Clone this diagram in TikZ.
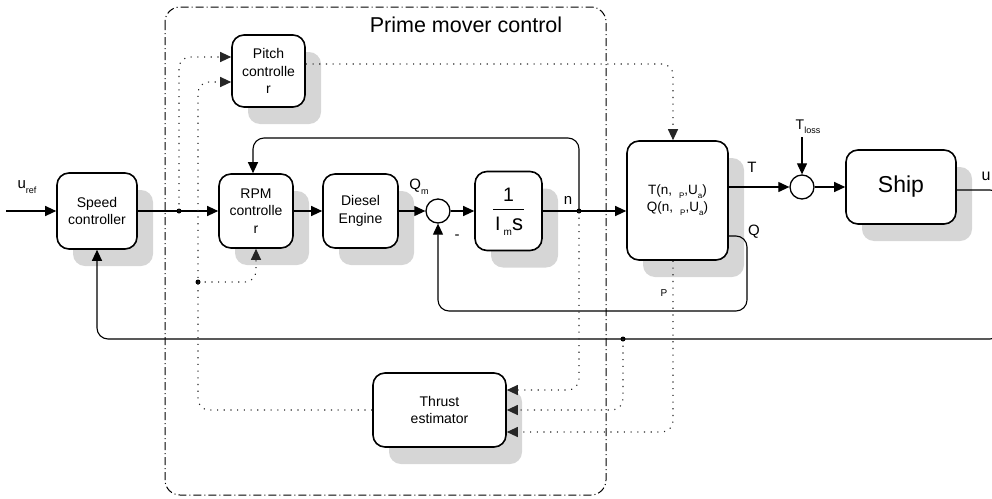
\documentclass[tikz,border=0pt]{standalone}
\usepackage{fontspec}
\setmainfont{Liberation Sans}
\usetikzlibrary{arrows.meta,shadows}
\definecolor{shd}{HTML}{D6D6D6}
\newcommand\fs[1]{\fontsize{#1}{#1}\selectfont}
\newcommand\lowsub[2]{\raisebox{-0.3em}{\fontsize{#1}{#1}\selectfont #2}}

\begin{document}
\begin{tikzpicture}[x=1pt,y=-1pt,
  blk/.style={draw, line width=1.6pt, rounded corners=12pt, fill=white,
    align=center, inner sep=0pt, font=\fontsize{14}{17.5}\selectfont,
    drop shadow={shadow xshift=16pt,shadow yshift=-17pt,opacity=1,fill=shd,draw=none}},
  sumc/.style={draw, line width=1.3pt, circle, minimum size=24pt, inner sep=0pt, fill=white},
  wire/.style={line width=1.1pt, rounded corners=11pt},
  arr/.style={wire, -{Triangle[length=11pt,width=10pt]}},
  sig/.style={line width=1.1pt, dash pattern=on 1.1pt off 5.6pt, rounded corners=11pt, draw=black!85},
  sigarr/.style={sig, -{Triangle[length=11pt,width=10pt]}},
  dot/.style={circle, fill, inner sep=0pt, minimum size=5pt},
  lbl/.style={font=\fs{15}, inner sep=0pt},
  frame/.style={line width=1pt, dash pattern=on 8pt off 3pt on 1pt off 3pt, rounded corners=15pt}
]
\useasboundingbox (0,0) rectangle (992,498);
\clip (0,0) rectangle (992,498);

% prime mover control group
\draw[frame] (165,7) rectangle (606,495);
\node[font=\fs{21.5}, inner sep=0pt] (title) at (466,25) {Prime mover control};

% blocks
\node[blk, minimum width=80pt, minimum height=76pt] (speed) at (97,211) {Speed\\controller};
\node[blk, minimum width=74pt, minimum height=74pt] (rpm) at (256,211) {RPM\\controlle\\r};
\node[blk, minimum width=73pt, minimum height=72pt] (pitch) at (268.5,71) {Pitch\\controlle\\r};
\node[blk, minimum width=75pt, minimum height=74pt] (diesel) at (360.5,211) {Diesel\\Engine};
\node[sumc] (s1) at (438,211) {};
\node[blk, minimum width=67pt, minimum height=79pt] (integ) at (508.5,211) {};
\node[blk, minimum width=101pt, minimum height=119pt, font=\fontsize{13.5}{17}\selectfont] (tq) at (677.5,200.5)
  {T(n,\hspace{7pt}\lowsub{8}{P},U\lowsub{8}{a})\\Q(n,\hspace{7pt}\lowsub{8}{P},U\lowsub{8}{a})};
\node[sumc] (s2) at (802,187) {};
\node[blk, minimum width=110pt, minimum height=74pt, font=\fs{23}] (ship) at (901,187) {Ship};
\node[blk, minimum width=133pt, minimum height=74pt] (thrust) at (439.5,410) {Thrust\\estimator};

% 1/(I_m s) inside the integrator block
\node[font=\fs{19.5}, inner sep=0pt] (num) at (508.5,195) {1};
\draw[line width=1pt] ([xshift=-15.5pt,yshift=2pt]integ.center) -- ++(31,0);
\node[font=\fs{19.5}, inner sep=0pt, anchor=base] (den) at (509,230) {I\,\lowsub{10}{m}{\fs{22}s}};

% junctions and free ends
\coordinate (uin) at (6,211);
\node[dot] (j1) at (179,211) {};
\node[dot] (jn) at (579,211) {};
\node[dot] (jd) at (198,282) {};
\node[dot] (jb) at (623,339) {};
\coordinate (fbB) at (253,138);
\coordinate (tl) at (802,137);
\coordinate (ur) at (1001,190);
\coordinate (fbL) at (97,339);
\coordinate (qR) at (747,236);
\coordinate (qB) at (438,311);

% solid signal paths
\draw[arr] (uin) -- (speed);
\draw[arr] (speed) -- (rpm);
\draw[arr] (rpm) -- (diesel);
\draw[arr] (diesel) -- (s1);
\draw[arr] (s1) -- (integ);
\draw[arr] (integ.east) -- (tq.west |- integ.east);
\draw[arr] (jn.center) |- (fbB) -- (fbB |- rpm.north);
\draw[arr] (tq.east |- s2) -- (s2);
\draw[arr] (tl) -- (s2);
\draw[arr] (s2) -- (ship);
\draw[arr] ([yshift=-3pt]ship.east) -- (ur) |- (fbL) -- (speed.south);
\draw[arr] (tq.east |- qR) -- (qR) |- (qB) -- (s1);

% dotted estimation paths
\draw[sigarr] (j1.center) |- ([yshift=14pt]pitch.west);
\draw[sigarr] (thrust.west) -| (jd.center) |- ([yshift=-11pt]pitch.west);
\draw[sigarr] (jd.center) -| (rpm.south);
\draw[sigarr] ([yshift=7pt]pitch.east) -| ([xshift=-4.5pt]tq.north);
\draw[sigarr] (jn.center) |- ([yshift=20pt]thrust.east);
\draw[sigarr] (jb.center) |- (thrust.east);
\draw[sigarr] ([xshift=-4.5pt]tq.south) |- ([yshift=-22pt]thrust.east);

% labels
\node[lbl] (lu) at (27,187) {u\lowsub{9}{ref}};
\node[lbl] (lqm) at (419,187) {Q\lowsub{9}{m}};
\node[lbl] (lminus) at (457,237) {-};
\node[lbl] (ln) at (568,200) {n};
\node[lbl] (lt) at (752,167) {T};
\node[lbl] (lq) at (754,232) {Q};
\node[lbl, font=\fs{10}] (lp) at (664,293) {P};
\node[lbl, font=\fs{16}] (lship) at (986,176) {u};
\node[lbl, font=\fs{14}] (ltl) at (808,127) {T\lowsub{9}{loss}};
\end{tikzpicture}
\end{document}
